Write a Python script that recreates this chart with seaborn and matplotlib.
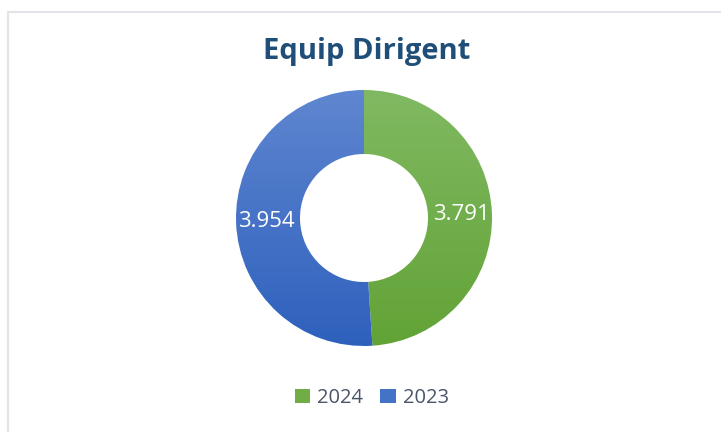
import matplotlib
matplotlib.use("Agg")
import matplotlib.pyplot as plt
from matplotlib.lines import Line2D
from matplotlib.patches import Patch
import seaborn as sns
import numpy as np

# Data
years = ["2024", "2023"]
values = [3.791, 3.954]
value_labels = ["3.791", "3.954"]

# Office-like gradient colours (top, bottom) per series
top_colors = ["#80B962", "#5F86D0"]
bottom_colors = ["#62A336", "#2E61BD"]
mid_colors = ["#70AD47", "#4472C4"]

sns.set_theme(style="white")
plt.rcParams["font.family"] = ["Open Sans", "DejaVu Sans"]

fig = plt.figure(figsize=(7.21, 4.32), dpi=100)
W, H = 721, 432

# light frame around the chart area (only top and left visible)
fig.add_artist(Line2D([7.5 / W, 7.5 / W], [0, 1 - 11.5 / H], transform=fig.transFigure,
                      color="#E1E5EA", lw=1.5))
fig.add_artist(Line2D([7.5 / W, 1], [1 - 11.5 / H, 1 - 11.5 / H], transform=fig.transFigure,
                      color="#E1E5EA", lw=1.5))

# donut axes: centre (364, 218) px, radius 128 px
cx, cy, r = 364, 218, 128
ax = fig.add_axes([(cx - r) / W, (H - cy - r) / H, 2 * r / W, 2 * r / H])
wedges, texts = ax.pie(values, labels=value_labels, startangle=90, counterclock=False,
                       labeldistance=0.76, radius=1,
                       wedgeprops=dict(width=0.5, linewidth=0, facecolor="none"),
                       textprops=dict(color="white", fontsize=16, ha="center", va="center"))

# vertical gradient fill clipped to each wedge
for w, c_top, c_bot in zip(wedges, top_colors, bottom_colors):
    t = np.linspace(0, 1, 256)[:, None]
    top = np.array(matplotlib.colors.to_rgb(c_top))
    bot = np.array(matplotlib.colors.to_rgb(c_bot))
    img = top[None, None, :] * (1 - t[:, :, None]) + bot[None, None, :] * t[:, :, None]
    img = np.repeat(img, 2, axis=1)
    im = ax.imshow(img, extent=(-1, 1, -1, 1), origin="upper", aspect="auto", zorder=0.5)
    im.set_clip_path(w)
ax.set_xlim(-1, 1)
ax.set_ylim(-1, 1)
for t_ in texts:
    t_.set_zorder(3)

fig.text(367 / W, 1 - 52 / H, "Equip Dirigent", ha="center", va="center",
         fontsize=21, fontweight="bold", color="#1F4E79")

handles = [Patch(facecolor=c, edgecolor="none") for c in mid_colors]
fig.legend(handles, years, loc="center", bbox_to_anchor=(372 / W, 1 - 398 / H), ncol=2,
           frameon=False, fontsize=14.5, labelcolor="#4A5568", handlelength=0.75, handleheight=0.75,
           handletextpad=0.35, columnspacing=0.85)

fig.savefig("out.png", dpi=100)
